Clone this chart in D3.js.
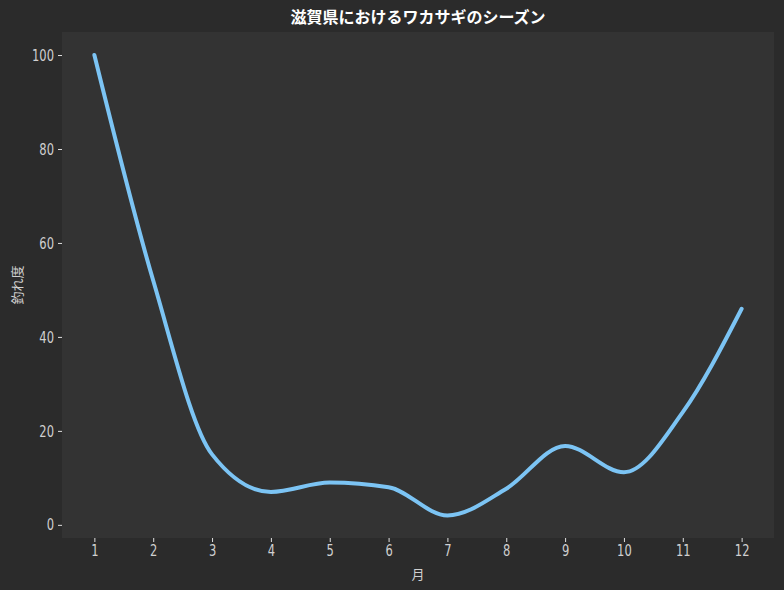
<!DOCTYPE html>
<html><head><meta charset="utf-8">
<script src="https://cdn.jsdelivr.net/npm/d3@7"></script>
<style>html,body{margin:0;padding:0;background:#2b2b2b;}</style>
</head><body>
<svg id="chart" width="784" height="590"></svg>
<script>
const months = [1,2,3,4,5,6,7,8,9,10,11,12];
const catchValues = [100,52,15,7,9,8,2,7.7,16.8,11.2,24,46];
const yTicks = [0,20,40,60,80,100];
const titleText = "滋賀県におけるワカサギのシーズン";
const xLabel = "月";
const yLabel = "釣れ度";

const W = 784, H = 590;
const m = {left:62, right:10, top:32, bottom:52};
const svg = d3.select("#chart");
svg.append("rect").attr("width",W).attr("height",H).attr("fill","#2b2b2b");
const pw = W - m.left - m.right, ph = H - m.top - m.bottom;
const g = svg.append("g").attr("transform",`translate(${m.left},${m.top})`);
g.append("rect").attr("width",pw).attr("height",ph).attr("fill","#333333");

const x = d3.scaleLinear().domain([0.45,12.55]).range([0,pw]);
const y = d3.scaleLinear().domain([-2.8,104.9]).range([ph,0]);

const font = "'Noto Sans CJK JP', 'Noto Sans', sans-serif";
const tickFont = "'DejaVu Sans', sans-serif";
const sx = 0.72;
const xAxis = g.append("g").attr("transform",`translate(0,${ph})`)
  .call(d3.axisBottom(x).tickValues(months).tickFormat(d3.format("d")).tickSize(4).tickPadding(3));
const yAxis = g.append("g")
  .call(d3.axisLeft(y).tickValues(yTicks).tickFormat(d3.format("d")).tickSize(4).tickPadding(4));
[xAxis,yAxis].forEach(a=>{
  a.select(".domain").remove();
  a.selectAll("line").attr("stroke","#e0e0e0").attr("stroke-width",1);
  a.selectAll("text").attr("fill","#d0d0d0").style("font-family",tickFont).style("font-size","16px")
    .attr("transform",`scale(${sx},1)`);
});
yAxis.selectAll("text").attr("x",-8/sx);

const line = d3.line().x((d,i)=>x(months[i])).y(d=>y(d)).curve(d3.curveMonotoneX);
g.append("path").datum(catchValues).attr("d",line)
  .attr("fill","none").attr("stroke","#7cc4f4").attr("stroke-width",4).attr("stroke-linecap","round");

svg.append("text").attr("x",m.left+pw/2).attr("y",23).attr("text-anchor","middle")
  .attr("fill","#ffffff").style("font-family",font).style("font-size","16px").style("font-weight","bold").text(titleText);
svg.append("text").attr("x",m.left+pw/2).attr("y",579).attr("text-anchor","middle")
  .attr("fill","#d0d0d0").style("font-family",font).style("font-size","13px").text(xLabel);
svg.append("text").attr("transform",`translate(22,${m.top+ph/2}) rotate(-90)`).attr("text-anchor","middle")
  .attr("fill","#d0d0d0").style("font-family",font).style("font-size","13px").text(yLabel);
</script>
</body></html>
